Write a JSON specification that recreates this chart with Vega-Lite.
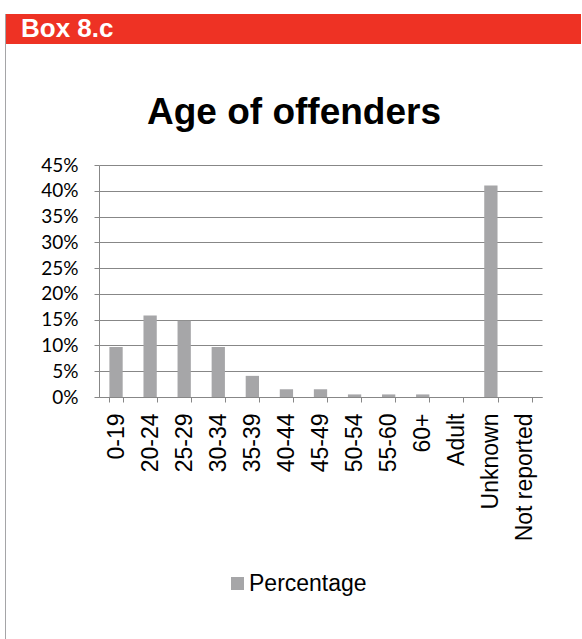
{
  "$schema": "https://vega.github.io/schema/vega-lite/v6.json",
  "padding": {"top": 14, "left": -5, "right": 0, "bottom": 0},
  "background": "white",
  "spacing": 0,
  "bounds": "flush",
  "config": {"view": {"stroke": null}},
  "hconcat": [
    {
      "width": 1,
      "height": 625,
      "data": {"values": [{"edge": "border"}]},
      "mark": {"type": "rect", "color": "#A5A5A7"},
      "encoding": {}
    },
    {
      "columns": 1,
      "spacing": 121,
      "bounds": "flush",
      "resolve": {"legend": {"color": "independent"}, "scale": {"color": "independent"}},
      "concat": [
        {
          "width": 575,
          "height": 30,
          "view": {"fill": "#EE3224", "stroke": null},
          "data": {"values": [{"label": "Box 8.c", "pos": 0}]},
          "mark": {"type": "text", "align": "left", "baseline": "middle", "font": "Liberation Sans", "fontWeight": "bold", "fontSize": 26, "color": "white", "dx": 15},
          "encoding": {
            "x": {"field": "pos", "type": "quantitative", "scale": {"domain": [0, 1]}, "axis": null},
            "text": {"field": "label", "type": "nominal"}
          }
        },
        {
          "width": 536,
          "height": 232,
          "title": {"text": "Age of offenders", "font": "Liberation Sans", "fontSize": 37, "fontWeight": "bold", "color": "black", "anchor": "middle", "dx": 20, "offset": 24},
          "data": {"values": [
            {"age": "0-19", "pct": 0.097},
            {"age": "20-24", "pct": 0.158},
            {"age": "25-29", "pct": 0.148},
            {"age": "30-34", "pct": 0.097},
            {"age": "35-39", "pct": 0.041},
            {"age": "40-44", "pct": 0.015},
            {"age": "45-49", "pct": 0.015},
            {"age": "50-54", "pct": 0.005},
            {"age": "55-60", "pct": 0.005},
            {"age": "60+", "pct": 0.005},
            {"age": "Adult", "pct": 0},
            {"age": "Unknown", "pct": 0.41},
            {"age": "Not reported", "pct": 0}
          ]},
          "mark": {"type": "bar"},
          "encoding": {
            "x": {"field": "age", "type": "nominal", "sort": null,
              "scale": {"range": [93, 536], "paddingInner": 0.61, "paddingOuter": 0.305},
              "axis": {"title": null, "labelAngle": -90, "labelFont": "Liberation Sans", "labelFontSize": 23, "labelColor": "black", "labelPadding": 11, "labelBaseline": "middle", "tickBand": "extent", "tickSize": 5, "tickColor": "#878787", "domainColor": "#878787", "tickWidth": 1, "domainWidth": 1}
            },
            "y": {"field": "pct", "type": "quantitative",
              "scale": {"domain": [0, 0.45], "nice": false},
              "axis": {"title": null, "offset": -93, "format": ".0%", "values": [0, 0.05, 0.1, 0.15, 0.2, 0.25, 0.3, 0.35, 0.4, 0.45], "labelFont": "Lato", "labelFontSize": 19, "labelColor": "black", "labelPadding": 16, "tickSize": 5, "tickColor": "#878787", "domain": true, "domainColor": "#878787", "gridColor": "#878787", "gridWidth": 1, "grid": true}
            },
            "color": {"datum": "Percentage", "type": "nominal",
              "scale": {"range": ["#A6A6A8"]},
              "legend": {"title": null, "orient": "none", "legendX": 220, "legendY": 407, "symbolType": "square", "symbolSize": 169, "symbolStrokeWidth": 0, "symbolOpacity": 1, "labelFont": "Liberation Sans", "labelFontSize": 23, "labelColor": "black", "labelOffset": 0, "padding": 0}
            }
          }
        }
      ]
    }
  ]
}
